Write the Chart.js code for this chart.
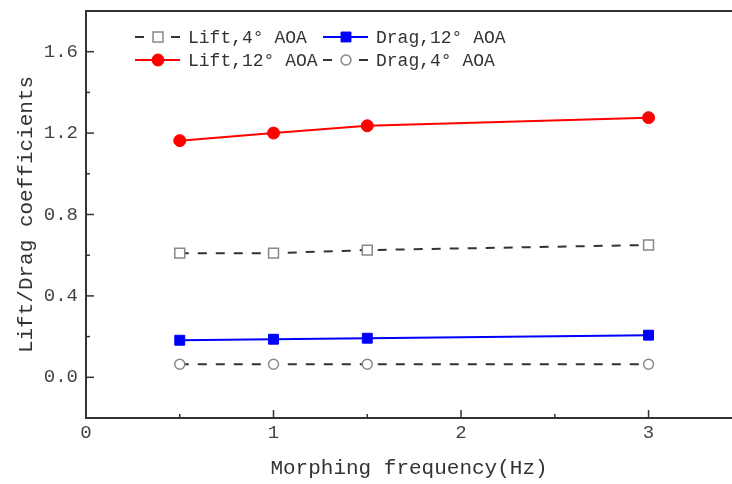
<!DOCTYPE html>
<html lang="en">
<head>
  <meta charset="UTF-8">
  <script src="https://cdn.jsdelivr.net/npm/chart.js"></script>
  <title>Lift/Drag coefficients</title>
  <style>
    body { margin: 0; background: #fff; }
    #wrap { width: 732px; height: 484px; }
  </style>
</head>
<body>
  <div id="wrap">
    <canvas id="myChart" width="732" height="484"></canvas>
  </div>

  <script>
    // values
    const freq = [0.5, 1, 1.5, 3];
    const lift4 = [0.61, 0.61, 0.625, 0.65];
    const drag12 = [0.182, 0.187, 0.192, 0.207];
    const lift12 = [1.163, 1.2, 1.236, 1.276];
    const drag4 = [0.064, 0.064, 0.064, 0.064];

    const FONT = "'Liberation Mono', monospace";
    const INK = '#333';

    const toXY = (ys) => freq.map((x, i) => ({ x: x, y: ys[i] }));

    // draws the inward ticks, the top frame line and the in-plot legend
    const frame = {
      id: 'frame',
      afterDraw(chart) {
        const ctx = chart.ctx;
        const area = chart.chartArea;
        const xs = chart.scales.x;
        const ys = chart.scales.y;
        ctx.save();
        ctx.strokeStyle = INK;
        ctx.lineWidth = 1.5;
        for (let v = -0.2; v <= 1.81; v += 0.2) {
          const y = ys.getPixelForValue(v);
          const major = Math.abs(Math.round(v / 0.4) * 0.4 - v) < 1e-6;
          ctx.beginPath();
          ctx.moveTo(area.left, y);
          ctx.lineTo(area.left + (major ? 8 : 4), y);
          ctx.stroke();
        }
        for (let v = 0.5; v < xs.max; v += 0.5) {
          const x = xs.getPixelForValue(v);
          const major = Math.abs(Math.round(v) - v) < 1e-6;
          ctx.beginPath();
          ctx.moveTo(x, area.bottom);
          ctx.lineTo(x, area.bottom - (major ? 8 : 4));
          ctx.stroke();
        }
        // top border
        ctx.lineWidth = 2;
        ctx.beginPath();
        ctx.moveTo(area.left, area.top);
        ctx.lineTo(area.right, area.top);
        ctx.stroke();

        // legend, two columns
        const spots = [[135, 37], [323, 37], [135, 60], [323, 60]];
        chart.data.datasets.forEach((ds, i) => {
          const [lx, ly] = spots[i];
          ctx.save();
          ctx.strokeStyle = ds.borderColor;
          ctx.lineWidth = ds.borderWidth;
          ctx.setLineDash(ds.borderDash || []);
          ctx.beginPath();
          ctx.moveTo(lx, ly);
          ctx.lineTo(lx + 45, ly);
          ctx.stroke();
          ctx.restore();
          ctx.save();
          ctx.fillStyle = ds.pointBackgroundColor;
          ctx.strokeStyle = ds.pointBorderColor;
          ctx.lineWidth = ds.pointBorderWidth;
          ctx.beginPath();
          if (ds.pointStyle === 'circle') {
            ctx.arc(lx + 23, ly, ds.pointRadius, 0, Math.PI * 2);
          } else {
            const s = ds.pointRadius * Math.SQRT1_2;
            ctx.rect(lx + 23 - s, ly - s, 2 * s, 2 * s);
          }
          ctx.fill();
          ctx.stroke();
          ctx.restore();
          ctx.fillStyle = INK;
          ctx.font = '18px ' + FONT;
          ctx.textBaseline = 'middle';
          ctx.fillText(ds.label, lx + 53, ly + 1);
        });
        ctx.restore();
      }
    };

    const data = {
      datasets: [
        {
          label: 'Lift,4° AOA',
          data: toXY(lift4),
          borderColor: INK,
          borderWidth: 2,
          borderDash: [9, 9],
          pointStyle: 'rect',
          pointRadius: 7,
          pointBorderWidth: 1.5,
          pointBorderColor: '#888',
          pointBackgroundColor: '#fff'
        },
        {
          label: 'Drag,12° AOA',
          data: toXY(drag12),
          borderColor: '#0000ff',
          borderWidth: 2,
          pointStyle: 'rect',
          pointRadius: 7,
          pointBorderWidth: 1,
          pointBorderColor: '#0000ff',
          pointBackgroundColor: '#0000ff'
        },
        {
          label: 'Lift,12° AOA',
          data: toXY(lift12),
          borderColor: '#ff0000',
          borderWidth: 2,
          pointStyle: 'circle',
          pointRadius: 6,
          pointBorderWidth: 1,
          pointBorderColor: '#ff0000',
          pointBackgroundColor: '#ff0000'
        },
        {
          label: 'Drag,4° AOA',
          data: toXY(drag4),
          borderColor: INK,
          borderWidth: 2,
          borderDash: [9, 9],
          pointStyle: 'circle',
          pointRadius: 5,
          pointBorderWidth: 1.5,
          pointBorderColor: '#888',
          pointBackgroundColor: '#fff'
        }
      ]
    };

    const config = {
      type: 'line',
      data: data,
      plugins: [frame],
      options: {
        responsive: false,
        animation: false,
        layout: { autoPadding: false, padding: { top: 11, right: 0, left: 0, bottom: 0 } },
        plugins: {
          legend: { display: false },
          tooltip: { enabled: false }
        },
        scales: {
          x: {
            type: 'linear',
            min: 0,
            max: 3.445,
            grid: { display: false, drawTicks: false },
            border: { display: true, color: INK, width: 2 },
            afterFit: (s) => {
              s.height = 66;
              s.paddingLeft = 0;
              s.paddingRight = 0;
            },
            afterBuildTicks: (s) => {
              s.ticks = [0, 1, 2, 3].map(v => ({ value: v }));
            },
            ticks: {
              padding: 4,
              color: '#444',
              font: { family: FONT, size: 19 },
              callback: (v) => String(v)
            },
            title: {
              display: true,
              text: 'Morphing frequency(Hz)',
              color: INK,
              font: { family: FONT, size: 21 },
              padding: { top: 0, bottom: 3 }
            }
          },
          y: {
            min: -0.2,
            max: 1.8,
            grid: { display: false, drawTicks: false },
            border: { display: true, color: INK, width: 2 },
            afterFit: (s) => {
              s.width = 86;
              s.paddingTop = 0;
              s.paddingBottom = 0;
            },
            afterBuildTicks: (s) => {
              s.ticks = [0, 0.4, 0.8, 1.2, 1.6].map(v => ({ value: v }));
            },
            ticks: {
              padding: 8,
              color: '#444',
              font: { family: FONT, size: 19 },
              callback: (v) => Number(v).toFixed(1)
            },
            title: {
              display: true,
              text: 'Lift/Drag coefficients',
              color: INK,
              font: { family: FONT, size: 21 },
              padding: { top: 14, bottom: 0 }
            }
          }
        }
      }
    };

    const myChart = new Chart(document.getElementById('myChart'), config);
  </script>
</body>
</html>
